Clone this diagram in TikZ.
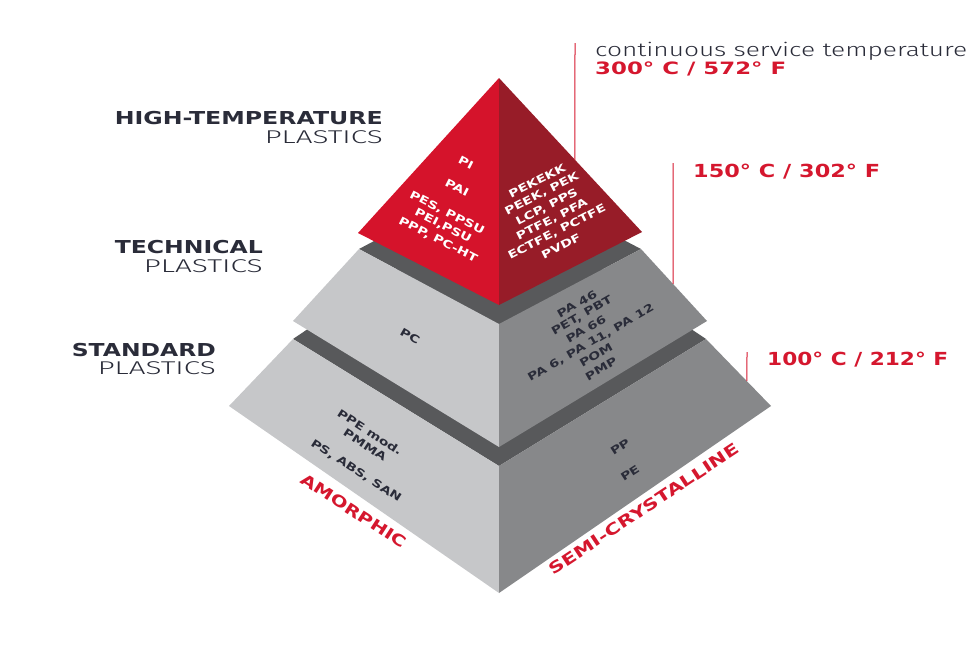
\documentclass[tikz,border=0pt]{standalone}
\usepackage{fontspec}
\usepackage{graphicx}
\usetikzlibrary{calc}
\setmainfont{DejaVu Sans}
\newfontfamily\heavy[FakeStretch=1.3]{DejaVu Sans Bold}
\newfontfamily\thinfnt[FakeStretch=1.1]{Fira Sans Light}
\definecolor{redL}{HTML}{D5132B}
\definecolor{redR}{HTML}{971C28}
\definecolor{lgray}{HTML}{C6C7C9}
\definecolor{mgray}{HTML}{87888A}
\definecolor{dgray}{HTML}{58595B}
\definecolor{txtdark}{HTML}{2A2C39}
\definecolor{txtred}{HTML}{D5172E}
\newcommand\fitw[2]{\resizebox{#1pt}{\height}{#2}}
\begin{document}
\begin{tikzpicture}[x=1pt,y=-1pt,
  face/.style={font=\heavy\fontsize{10.8}{12}\selectfont, inner sep=0pt},
  onred/.style={face, text=white},
  ongray/.style={face, text=txtdark},
  lbl/.style={inner sep=0pt, text=txtdark},
  temp/.style={inner sep=0pt, text=txtred, anchor=base west},
  edgelbl/.style={inner sep=0pt, text=txtred},
  tick/.style={draw=txtred, line width=1pt}]
\useasboundingbox (0,0) rectangle (980,664);
% corner coordinates
\coordinate (A) at (499,78);
\coordinate (RL) at (358,233);
\coordinate (RB) at (499,305);
\coordinate (RR) at (642,232);
\coordinate (T2L) at (359,249);
\coordinate (T2F) at (499,324);
\coordinate (T2R) at (641,249);
\coordinate (T2K) at (499,175);
\coordinate (T2BL) at (293,321);
\coordinate (T2BF) at (499,447);
\coordinate (T2BR) at (707,321);
\coordinate (T3L) at (293,339);
\coordinate (T3F) at (499,466);
\coordinate (T3R) at (706,339);
\coordinate (T3K) at (499,200);
\coordinate (T3BL) at (229,406);
\coordinate (T3BF) at (499,593);
\coordinate (T3BR) at (771,406);
% tier 3 (standard)
\fill[dgray] (T3L) -- (T3K) -- (T3R) -- (T3F) -- cycle;
\fill[lgray] (T3L) -- (T3F) -- (T3BF) -- (T3BL) -- cycle;
\fill[mgray] (T3F) -- (T3R) -- (T3BR) -- (T3BF) -- cycle;
% tier 2 (technical)
\fill[dgray] (T2L) -- (T2K) -- (T2R) -- (T2F) -- cycle;
\fill[lgray] (T2L) -- (T2F) -- (T2BF) -- (T2BL) -- cycle;
\fill[mgray] (T2F) -- (T2R) -- (T2BR) -- (T2BF) -- cycle;
% tier 1 (high temperature)
\fill[redL] (A) -- (RB) -- (RL) -- cycle;
\fill[redR] (A) -- (RR) -- (RB) -- cycle;
% temperature ticks
\coordinate (l1a) at (575,43);
\coordinate (l1b) at ($(A)!0.531!(RR)$);
\coordinate (l2a) at (673,163);
\coordinate (l2b) at ($(T2R)!0.485!(T2BR)$);
\coordinate (l3a) at (747,352);
\coordinate (l3b) at ($(T3R)!0.63!(T3BR)$);
\draw[tick] (l1a) -- (l1b);
\draw[tick] (l2a) -- (l2b);
\draw[tick] (l3a) -- (l3b);
% left labels
\node[lbl, anchor=base east] (ht) at (383,124) {\fitw{268}{\heavy\fontsize{17.8}{20}\selectfont HIGH-TEMPERATURE}};
\node[lbl, anchor=base east] (hp) at (383,143) {\fitw{118}{\thinfnt\fontsize{18.5}{20}\selectfont PLASTICS}};
\node[lbl, anchor=base east] (tt) at (263,253) {\fitw{148}{\heavy\fontsize{17.8}{20}\selectfont TECHNICAL}};
\node[lbl, anchor=base east] (tp) at (263,272) {\fitw{119}{\thinfnt\fontsize{18.5}{20}\selectfont PLASTICS}};
\node[lbl, anchor=base east] (st) at (216,356) {\fitw{144}{\heavy\fontsize{17.8}{20}\selectfont STANDARD}};
\node[lbl, anchor=base east] (sp) at (216,374) {\fitw{118}{\thinfnt\fontsize{18.5}{20}\selectfont PLASTICS}};
% right labels
\node[lbl, anchor=base west] (cst) at (595,56) {\fitw{372}{\thinfnt\fontsize{19}{20}\selectfont continuous service temperature}};
\node[temp] (t300) at (595,74) {\fitw{191}{\heavy\fontsize{17}{20}\selectfont 300° C / 572° F}};
\node[temp] (t150) at (693,177) {\fitw{187}{\heavy\fontsize{18}{20}\selectfont 150° C / 302° F}};
\node[temp] (t100) at (767,365) {\fitw{181}{\heavy\fontsize{18}{20}\selectfont 100° C / 212° F}};
% red left face
\node[onred, rotate=-27] (pi) at (466,163) {PI};
\node[onred, rotate=-27] (pai) at (457,188) {PAI};
\node[onred, rotate=-27] (pes) at (447,213) {PES, PPSU};
\node[onred, rotate=-27] (pei) at (443,226) {PEI,PSU};
\node[onred, rotate=-27] (ppp) at (438,240) {PPP, PC-HT};
% red right face
\node[onred, rotate=27] (pekekk) at (537,181) {PEKEKK};
\node[onred, rotate=27] (peek) at (542,194) {PEEK, PEK};
\node[onred, rotate=27] (lcp) at (547,207) {LCP, PPS};
\node[onred, rotate=27] (ptfe) at (552,220) {PTFE, PFA};
\node[onred, rotate=27] (ectfe) at (557,232) {ECTFE, PCTFE};
\node[onred, rotate=27] (pvdf) at (561,246) {PVDF};
% tier 2 faces
\node[ongray, rotate=-30] (pc) at (410,336) {PC};
\node[ongray, rotate=30] (pa46) at (577,304) {PA 46};
\node[ongray, rotate=30] (pet) at (582,316) {PET, PBT};
\node[ongray, rotate=30] (pa66) at (586,329) {PA 66};
\node[ongray, rotate=30] (pa6) at (591,343) {PA 6, PA 11, PA 12};
\node[ongray, rotate=30] (pom) at (596,355) {POM};
\node[ongray, rotate=30] (pmp) at (601,369) {PMP};
% tier 3 faces
\node[ongray, rotate=-33] (ppe) at (370,432) {PPE mod.};
\node[ongray, rotate=-33] (pmma) at (365,445) {PMMA};
\node[ongray, rotate=-33] (ps) at (356,471) {PS, ABS, SAN};
\node[ongray, rotate=33] (pp) at (620,447) {PP};
\node[ongray, rotate=33] (pe) at (630,473) {PE};
% bottom edge labels
\node[edgelbl, rotate=-33] (amo) at (354,511) {\fitw{122}{\heavy\fontsize{15.5}{18}\selectfont AMORPHIC}};
\node[edgelbl, rotate=33.5] (semi) at (644,509) {\fitw{224}{\heavy\fontsize{15.7}{18}\selectfont SEMI-CRYSTALLINE}};
\end{tikzpicture}
\end{document}
